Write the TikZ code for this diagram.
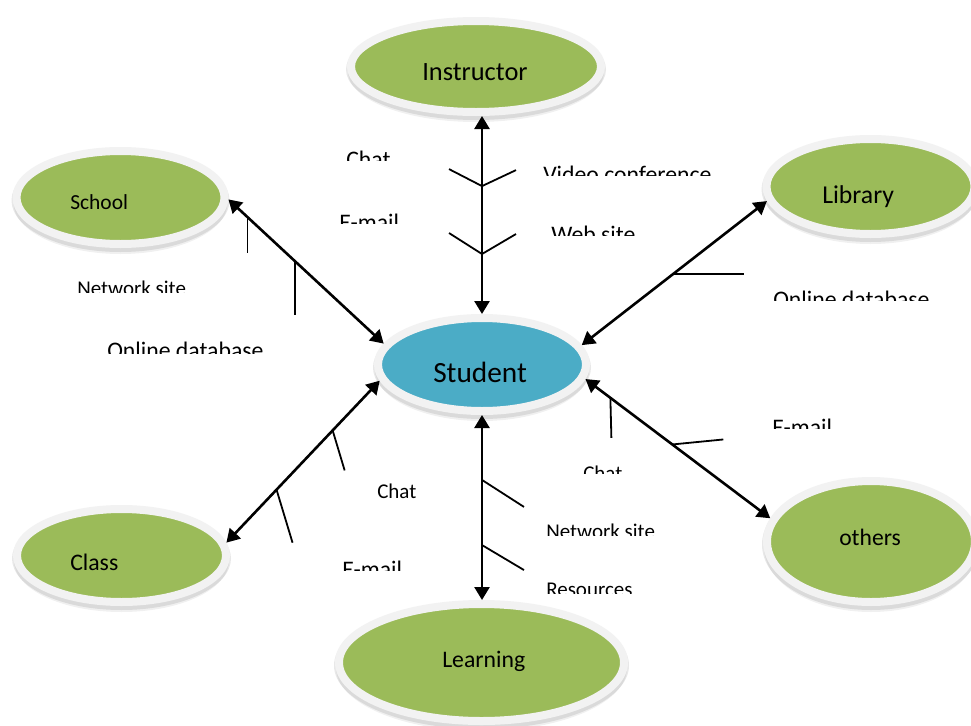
\documentclass[tikz,border=0pt]{standalone}
\usepackage{fontspec}
\setmainfont{Carlito}
\usetikzlibrary{arrows.meta,shapes.geometric,calc}
\pgfdeclarelayer{bg}
\pgfsetlayers{bg,main}
\definecolor{grn}{HTML}{9BBB59}
\definecolor{blu}{HTML}{4BACC6}
\definecolor{rimc}{HTML}{F2F2F2}
\newcommand{\cliplbl}[6]{\begin{scope}\clip (#2-6,#3-30) rectangle (#2+260,#4);\node[#5] (#1) at (#2,#3) {#6};\end{scope}}
\newcommand{\ovalshadow}[3]{%
  \fill[black, opacity=0.09] ($(#1.center)+(0,3)$) ellipse [x radius=#2+1, y radius=#3+1];
  \fill[black, opacity=0.06] ($(#1.center)+(0,5.5)$) ellipse [x radius=#2-1, y radius=#3+0.5];}
\begin{document}
\begin{tikzpicture}[x=0.75pt,y=-0.75pt,
  oval/.style={ellipse, draw=rimc, line width=6pt, inner sep=0pt, fill=grn},
  tn/.style={inner sep=0pt, anchor=base west, text=black},
  lblA/.style={tn, font=\fontsize{17.8}{20}\selectfont},
  lblB/.style={tn, font=\fontsize{15.75}{18}\selectfont},
  conn/.style={{Triangle[length=9.75pt,width=11.25pt]}-{Triangle[length=9.75pt,width=11.25pt]}, line width=1.95pt, black},
  br/.style={line width=1.35pt, black}]
\useasboundingbox (0,0) rectangle (971,725);

% ellipses
\node[oval, minimum width=187.5pt, minimum height=68.25pt] (instructor) at (476,66.5) {};
\node[oval, minimum width=156pt, minimum height=69.75pt] (school) at (120.5,197.5) {};
\node[oval, minimum width=156.75pt, minimum height=69.75pt] (class) at (121.5,555.5) {};
\node[oval, minimum width=156pt, minimum height=71.25pt] (library) at (870.5,186.5) {};
\node[oval, minimum width=156pt, minimum height=90.75pt] (others) at (871,541.5) {};
\node[oval, minimum width=213.75pt, minimum height=87.75pt] (learning) at (481.5,662.5) {};
\node[oval, fill=blu, minimum width=156pt, minimum height=69.75pt] (student) at (482,364.5) {};

% soft shadows under the rims
\begin{pgfonlayer}{bg}
\fill[white] (0,0) rectangle (971,725);
\ovalshadow{instructor}{129}{49.5}
\ovalshadow{school}{108}{50.5}
\ovalshadow{class}{108.5}{50.5}
\ovalshadow{library}{108}{51.5}
\ovalshadow{others}{108}{64.5}
\ovalshadow{learning}{146.5}{62.5}
\ovalshadow{student}{108}{50.5}
\end{pgfonlayer}

% ellipse texts
\node[tn, font=\fontsize{19.8}{22}\selectfont] (instructorT) at (422,80) {Instructor};
\node[tn, font=\fontsize{16.1}{18}\selectfont] (schoolT) at (70,209) {School};
\node[tn, font=\fontsize{17.8}{20}\selectfont] (classT) at (70,570) {Class};
\node[tn, font=\fontsize{19.3}{22}\selectfont] (libraryT) at (822,203) {Library};
\node[tn, font=\fontsize{17.7}{20}\selectfont] (othersT) at (839,545) {others};
\node[tn, font=\fontsize{17.8}{20}\selectfont] (learningT) at (442,667) {Learning};
\node[tn, font=\fontsize{22}{24}\selectfont] (studentT) at (433,382) {Student};

% connectors
\coordinate (itop) at (instructor.south -| student.north);
\coordinate (lbot) at (learning.north -| student.south);
\draw[conn] (itop) -- (student.north);
\draw[conn] (student.south) -- (lbot);
\draw[conn] (school.-1) -- (student.168.6);
\draw[conn] (class.7.5) -- (student.-171.3);
\draw[conn] (library.-172.6) -- (student.11.7);
\draw[conn] (others.167) -- (student.-8.8);

% fishbone branches
\coordinate (i1) at ($(itop)!0.354!(student.north)$);
\coordinate (i2) at ($(itop)!0.697!(student.north)$);
\draw[br] (i1) -- ++(-33,-17);
\draw[br] (i1) -- ++(34,-16);
\draw[br] (i2) -- ++(-33,-21);
\draw[br] (i2) -- ++(34,-20);

\coordinate (l1) at ($(student.south)!0.351!(lbot)$);
\coordinate (l2) at ($(student.south)!0.703!(lbot)$);
\draw[br] (l1) -- ++(42,27);
\draw[br] (l2) -- ++(42,25);

\draw[br] ($(school.-1)!0.123!(student.168.6)$) -- ++(0,35.5);
\draw[br] ($(school.-1)!0.43!(student.168.6)$) -- ++(0,54);

\draw[br] ($(class.7.5)!0.693!(student.-171.3)$) -- ++(12,40);
\draw[br] ($(class.7.5)!0.327!(student.-171.3)$) -- ++(16,53);

\draw[br] ($(library.-172.6)!0.508!(student.11.7)$) -- ++(71,0);

\draw[br] ($(student.-8.8)!0.135!(others.167)$) -- ++(1,40);
\draw[br] ($(student.-8.8)!0.47!(others.167)$) -- ++(51,-5);

% labels (cut at the bottom as in the reference)
\cliplbl{chat1}{346}{167}{160}{lblA}{Chat}
\cliplbl{video}{543}{182}{175}{lblA}{Video conference}
\cliplbl{email1}{339}{230}{223}{lblA}{E-mail}
\cliplbl{web}{551}{242}{235}{lblA}{Web site}
\cliplbl{net1}{77}{295.5}{292}{lblB}{Network site}
\cliplbl{online1}{107}{358}{353}{lblA}{Online database}
\cliplbl{online2}{773}{307}{300}{lblA}{Online database}
\cliplbl{email2}{772}{435}{428}{lblA}{E-mail}
\cliplbl{chat2}{583}{480.5}{473}{lblB}{Chat}
\node[lblB] (chat3) at (377,498) {Chat};
\cliplbl{net2}{546}{538.5}{535}{lblB}{Network site}
\cliplbl{email3}{342}{577}{570}{lblA}{E-mail}
\cliplbl{res}{546}{596.5}{593}{lblB}{Resources}
\end{tikzpicture}
\end{document}
